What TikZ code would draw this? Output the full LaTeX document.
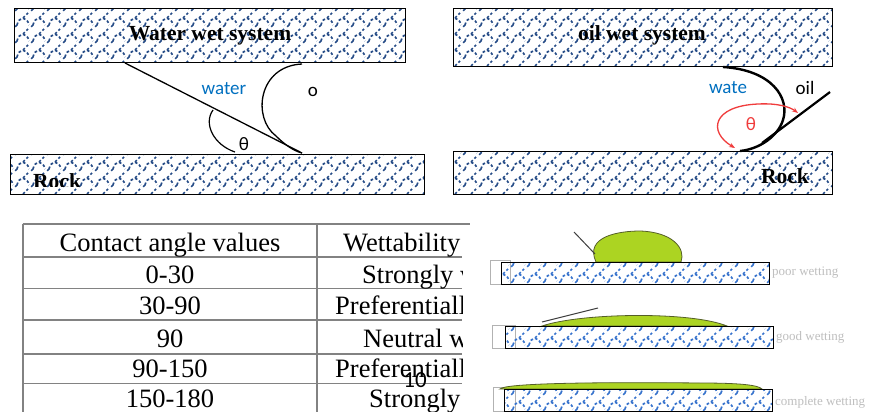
\documentclass[tikz,border=0pt]{standalone}
\usepackage{fontspec}
\setmainfont{Liberation Serif}
\newfontfamily\calib{Carlito}
\usetikzlibrary{patterns,arrows.meta}

\definecolor{hatchdark}{RGB}{38,76,135}
\definecolor{hatchlight}{RGB}{55,115,205}
\definecolor{msblue}{RGB}{0,112,192}
\definecolor{dropfill}{RGB}{172,212,34}
\definecolor{dropedge}{RGB}{85,95,40}
\definecolor{gridgray}{RGB}{130,130,130}
\definecolor{arcred}{RGB}{240,60,60}

% dashed arch-and-stem hatching used for the rock slabs
\pgfdeclarepatternformonly{rockhatch}{\pgfpoint{-2pt}{-2pt}}{\pgfpoint{18pt}{18pt}}{\pgfpoint{16pt}{16pt}}{%
  \pgfsetlinewidth{1.7pt}%
  \pgfsetdash{{2.6pt}{2.2pt}}{0pt}%
  \pgfpathmoveto{\pgfpoint{1pt}{3pt}}%
  \pgfpathcurveto{\pgfpoint{3pt}{12pt}}{\pgfpoint{11pt}{12pt}}{\pgfpoint{13pt}{3pt}}%
  \pgfpathmoveto{\pgfpoint{1pt}{3pt}}%
  \pgfpathlineto{\pgfpoint{-3pt}{-1pt}}%
  \pgfpathmoveto{\pgfpoint{7pt}{10pt}}%
  \pgfpathlineto{\pgfpoint{12pt}{15pt}}%
  \pgfusepath{stroke}}

\tikzset{
  slabdark/.style={draw=black, line width=1pt, pattern=rockhatch, pattern color=hatchdark},
  slablight/.style={draw=black, line width=0.9pt, pattern=rockhatch, pattern color=hatchlight},
  stub/.style={draw=gray!60, line width=0.8pt, fill=white},
  title/.style={font=\fontsize{21.5}{24}\selectfont\bfseries, inner sep=0pt},
  fluid/.style={font=\calib\fontsize{19}{22}\selectfont, inner sep=0pt},
  tabtxt/.style={font=\fontsize{26.5}{29}\selectfont, inner sep=0pt},
  gridline/.style={draw=gridgray, line width=1.6pt},
  droplet/.style={fill=dropfill, draw=dropedge, line width=0.8pt},
  tangent/.style={draw=black!75, line width=1pt},
  faint/.style={font=\fontsize{13}{15}\selectfont, text=gray!50, inner sep=0pt},
}

\begin{document}
\begin{tikzpicture}[x=1pt, y=-1pt]
\useasboundingbox (0,0) rectangle (870,412);
\fill[white] (0,0) rectangle (870,412);

% ---------------- water wet system ----------------
\draw[slabdark] (14,9) rectangle (405,63);
\draw[slabdark] (10,154) rectangle (424,194);
\node[title, anchor=base] (wwtitle) at (210,41) {Water wet system};
\begin{scope}
  \clip (10,154) rectangle (424,186);
  \node[title, anchor=base west] (wwrock) at (33,188) {Rock};
\end{scope}
\coordinate (wwtop) at (125,63);
\coordinate (wwfoot) at (302,153);
\draw[line width=1.3pt] (wwtop) -- (wwfoot);
\draw[line width=1.3pt] (302,64) .. controls (258,66) and (252,118) .. (276,136)
  .. controls (285,145) and (294,151) .. (wwfoot);
\draw[line width=1.2pt] (213,110) .. controls (203,124) and (214,145) .. (235,152);
\node[fluid, text=msblue] (wwwater) at (224,89) {water};
\node[fluid] (wwoil) at (313,92) {o};
\node[fluid] (wwtheta) at (244,144) {θ};

% ---------------- oil wet system ----------------
\draw[slabdark] (453,9) rectangle (832,67);
\draw[slabdark] (453,151) rectangle (832,194);
\node[title, anchor=base] (owtitle) at (642,41) {oil wet system};
\node[title, anchor=base] (owrock) at (785,183) {Rock};
\coordinate (owfoot) at (740,151);
\coordinate (owtip) at (830,92);
\draw[line width=2.4pt] (723,67) .. controls (772,70) and (790,98) .. (783,120)
  .. controls (778,136) and (760,149) .. (owfoot);
\draw[line width=2.2pt] (762,143) -- (owtip);
\draw[arcred, line width=1.3pt, {Stealth[length=6pt]}-{Stealth[length=6pt]}]
  (735,148) .. controls (708,132) and (712,106) .. (758,104)
  .. controls (778,103) and (790,107) .. (798,113);
\node[fluid, text=arcred] (owtheta) at (751,124) {θ};
\node[fluid, text=msblue] (owwater) at (728,88) {wate};
\node[fluid] (owoil) at (805,88) {oil};

% ---------------- contact angle table ----------------
\draw[gridline] (22.7,224) -- (470,224);
\foreach \yy in {256.7,288.3,320,354,383.3}
  \draw[gridline] (22.7,\yy) -- (462,\yy);
\draw[gridline] (22.7,224) -- (22.7,412);
\draw[gridline] (316.7,224) -- (316.7,412);

\node[tabtxt, anchor=base] (h1) at (170,251) {Contact angle values};
\node[tabtxt, anchor=base] (a1) at (170,283) {0-30};
\node[tabtxt, anchor=base] (a2) at (170,314.5) {30-90};
\node[tabtxt, anchor=base] (a3) at (170,347) {90};
\node[tabtxt, anchor=base] (a4) at (170,377.5) {90-150};
\node[tabtxt, anchor=base] (a5) at (170,407) {150-180};
\begin{scope}
  \clip (318,224) rectangle (462,412);
  \node[tabtxt, anchor=base west] (h2) at (343,251) {Wettability};
  \node[tabtxt, anchor=base west] (w1) at (362,283) {Strongly water wet};
  \node[tabtxt, anchor=base west] (w2) at (335,314.5) {Preferentially water wet};
  \node[tabtxt, anchor=base west] (w3) at (363,347) {Neutral wettability};
  \node[tabtxt, anchor=base west] (w4) at (335,377.5) {Preferentially oil wet};
  \node[tabtxt, anchor=base west] (w5) at (369,407) {Strongly oil wet};
\end{scope}
\node[font=\calib\fontsize{23}{26}\selectfont, inner sep=0pt] (pagenum) at (415,380) {10};

% ---------------- wetting regimes ----------------
% poor wetting
\draw[stub] (490,260) rectangle (510,284);
\draw[droplet] (596,262) .. controls (584,236) and (620,231) .. (640,231)
  .. controls (672,232) and (686,248) .. (681,262) -- cycle;
\draw[tangent] (574,232) -- (595,254);
\draw[slablight] (501,262) rectangle (769,284);
\node[faint, anchor=west] (poor) at (772,273) {poor wetting};

% good wetting
\draw[stub] (492,325) rectangle (515,348);
\draw[droplet] (542,326) .. controls (580,313) and (690,311) .. (727,326) -- cycle;
\draw[tangent] (542,322) -- (598,308);
\draw[slablight] (505,326) rectangle (773,348);
\node[faint, anchor=west] (good) at (776,337) {good wetting};

% complete wetting
\draw[stub] (493,387) rectangle (515,411);
\draw[droplet] (500,389) .. controls (505,383) and (600,382) .. (700,383)
  .. controls (740,383) and (758,385) .. (762,389) -- cycle;
\draw[slablight] (504,389) rectangle (772,411);
\node[faint, anchor=west] (complete) at (775,402) {complete wetting};
\end{tikzpicture}
\end{document}
